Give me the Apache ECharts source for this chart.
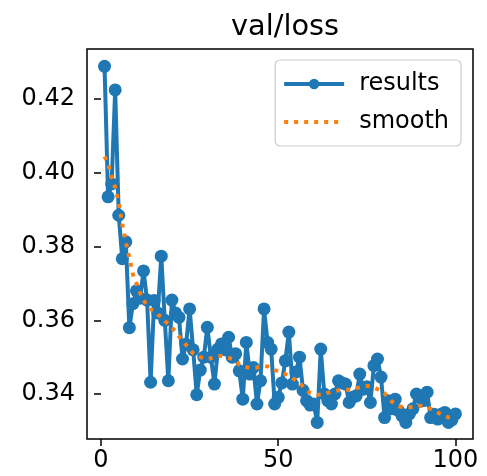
<!DOCTYPE html>
<html><head><meta charset="utf-8">
<script src="https://cdn.jsdelivr.net/npm/echarts@6/dist/echarts.min.js"></script>
<style>html,body{margin:0;padding:0;background:#fff}#c{width:487px;height:476px}</style>
</head><body><div id="c"></div>
<script>
const epochs = [];
for (let i = 1; i <= 100; i++) epochs.push(i);
const results = [
0.4289,0.3935,0.3970,0.4225,0.3885,0.3767,0.3813,0.3580,0.3645,0.3680,
0.3660,0.3734,0.3655,0.3432,0.3654,0.3620,0.3774,0.3600,0.3436,0.3655,
0.3620,0.3608,0.3495,0.3535,0.3631,0.3520,0.3398,0.3465,0.3500,0.3581,
0.3500,0.3427,0.3522,0.3536,0.3520,0.3554,0.3500,0.3509,0.3463,0.3386,
0.3540,0.3454,0.3472,0.3373,0.3436,0.3631,0.3540,0.3522,0.3373,0.3391,
0.3430,0.3490,0.3568,0.3427,0.3460,0.3500,0.3410,0.3382,0.3370,0.3373,
0.3323,0.3522,0.3400,0.3382,0.3373,0.3400,0.3436,0.3430,0.3427,0.3377,
0.3391,0.3395,0.3454,0.3413,0.3420,0.3377,0.3477,0.3495,0.3446,0.3336,
0.3382,0.3360,0.3386,0.3354,0.3340,0.3323,0.3346,0.3360,0.3400,0.3390,
0.3382,0.3405,0.3336,0.3345,0.3332,0.3345,0.3350,0.3323,0.3330,0.3346
];
const smooth = [
0.4045,0.4025,0.3990,0.3960,0.3920,0.3860,0.3813,0.3770,0.3725,0.3700,
0.3675,0.3655,0.3640,0.3630,0.3625,0.3615,0.3610,0.3598,0.3590,0.3580,
0.3570,0.3556,0.3545,0.3533,0.3522,0.3510,0.3504,0.3500,0.3497,0.3495,
0.3497,0.3500,0.3503,0.3503,0.3500,0.3498,0.3495,0.3490,0.3480,0.3476,
0.3473,0.3471,0.3471,0.3472,0.3474,0.3476,0.3475,0.3471,0.3465,0.3462,
0.3458,0.3454,0.3450,0.3443,0.3437,0.3430,0.3420,0.3410,0.3403,0.3400,
0.3398,0.3398,0.3400,0.3403,0.3406,0.3408,0.3410,0.3411,0.3411,0.3412,
0.3414,0.3416,0.3418,0.3420,0.3422,0.3421,0.3418,0.3413,0.3410,0.3402,
0.3390,0.3380,0.3373,0.3367,0.3365,0.3364,0.3364,0.3365,0.3367,0.3368,
0.3367,0.3363,0.3360,0.3356,0.3350,0.3345,0.3340,0.3337,0.3336,0.3336
];
const xTicks = [0, 50, 100];
const yTicks = [0.34, 0.36, 0.38, 0.40, 0.42];
const seriesNames = ['results', 'smooth'];

const font = 'DejaVu Sans';
const blue = '#1f77b4', orange = '#ff7f0e';
const dots = [4, 6];
const chart = echarts.init(document.getElementById('c'), null, {renderer: 'canvas'});
chart.setOption({
  animation: false,
  backgroundColor: '#fff',
  title: {text: 'val/loss', left: 280, textAlign: 'center', top: 8,
    textStyle: {fontFamily: font, fontSize: 28.8, fontWeight: 'normal', color: '#000'}},
  grid: {left: 87, right: 14, top: 49, bottom: 37, show: true, borderColor: '#000', borderWidth: 1.5, backgroundColor: 'transparent'},
  legend: {
    right: 26, top: 60, orient: 'vertical', itemGap: 14, itemWidth: 60, itemHeight: 13,
    padding: [12, 12, 12, 7],
    borderColor: '#cccccc', borderWidth: 1.2, borderRadius: 5, backgroundColor: 'rgba(255,255,255,0.8)',
    textStyle: {fontFamily: font, fontSize: 24, color: '#000', padding: [0, 0, 0, 10]},
    data: [
      {name: seriesNames[0], lineStyle: {width: 4, color: blue}, itemStyle: {color: blue}},
      {name: seriesNames[1], lineStyle: {width: 4, color: orange, type: dots, cap: 'butt', opacity: 1}, itemStyle: {opacity: 0, color: orange}}
    ]
  },
  xAxis: {
    type: 'value', min: -3.95, max: 104.95,
    splitLine: {show: false},
    axisLine: {show: false},
    axisTick: {show: true, inside: false, length: 7, lineStyle: {color: '#000', width: 1.5}, customValues: xTicks},
    axisLabel: {customValues: xTicks, fontFamily: font, fontSize: 24, color: '#000', margin: 10}
  },
  yAxis: {
    type: 'value', min: 0.3278, max: 0.4336,
    splitLine: {show: false},
    axisLine: {show: false},
    axisTick: {show: true, inside: false, length: 7, lineStyle: {color: '#000', width: 1.5}, customValues: yTicks},
    axisLabel: {customValues: yTicks, fontFamily: font, fontSize: 24, color: '#000', margin: 12,
      formatter: v => v.toFixed(2)}
  },
  series: [
    {name: seriesNames[0], type: 'line', data: epochs.map((e, i) => [e, results[i]]),
     symbol: 'circle', symbolSize: 13, showSymbol: true,
     itemStyle: {color: blue}, lineStyle: {color: blue, width: 4}, z: 2},
    {name: seriesNames[1], type: 'line', data: epochs.map((e, i) => [e, smooth[i]]),
     symbol: 'none', itemStyle: {color: orange},
     lineStyle: {color: orange, width: 4, type: dots, cap: 'butt'}, z: 3}
  ]
});
</script></body></html>
